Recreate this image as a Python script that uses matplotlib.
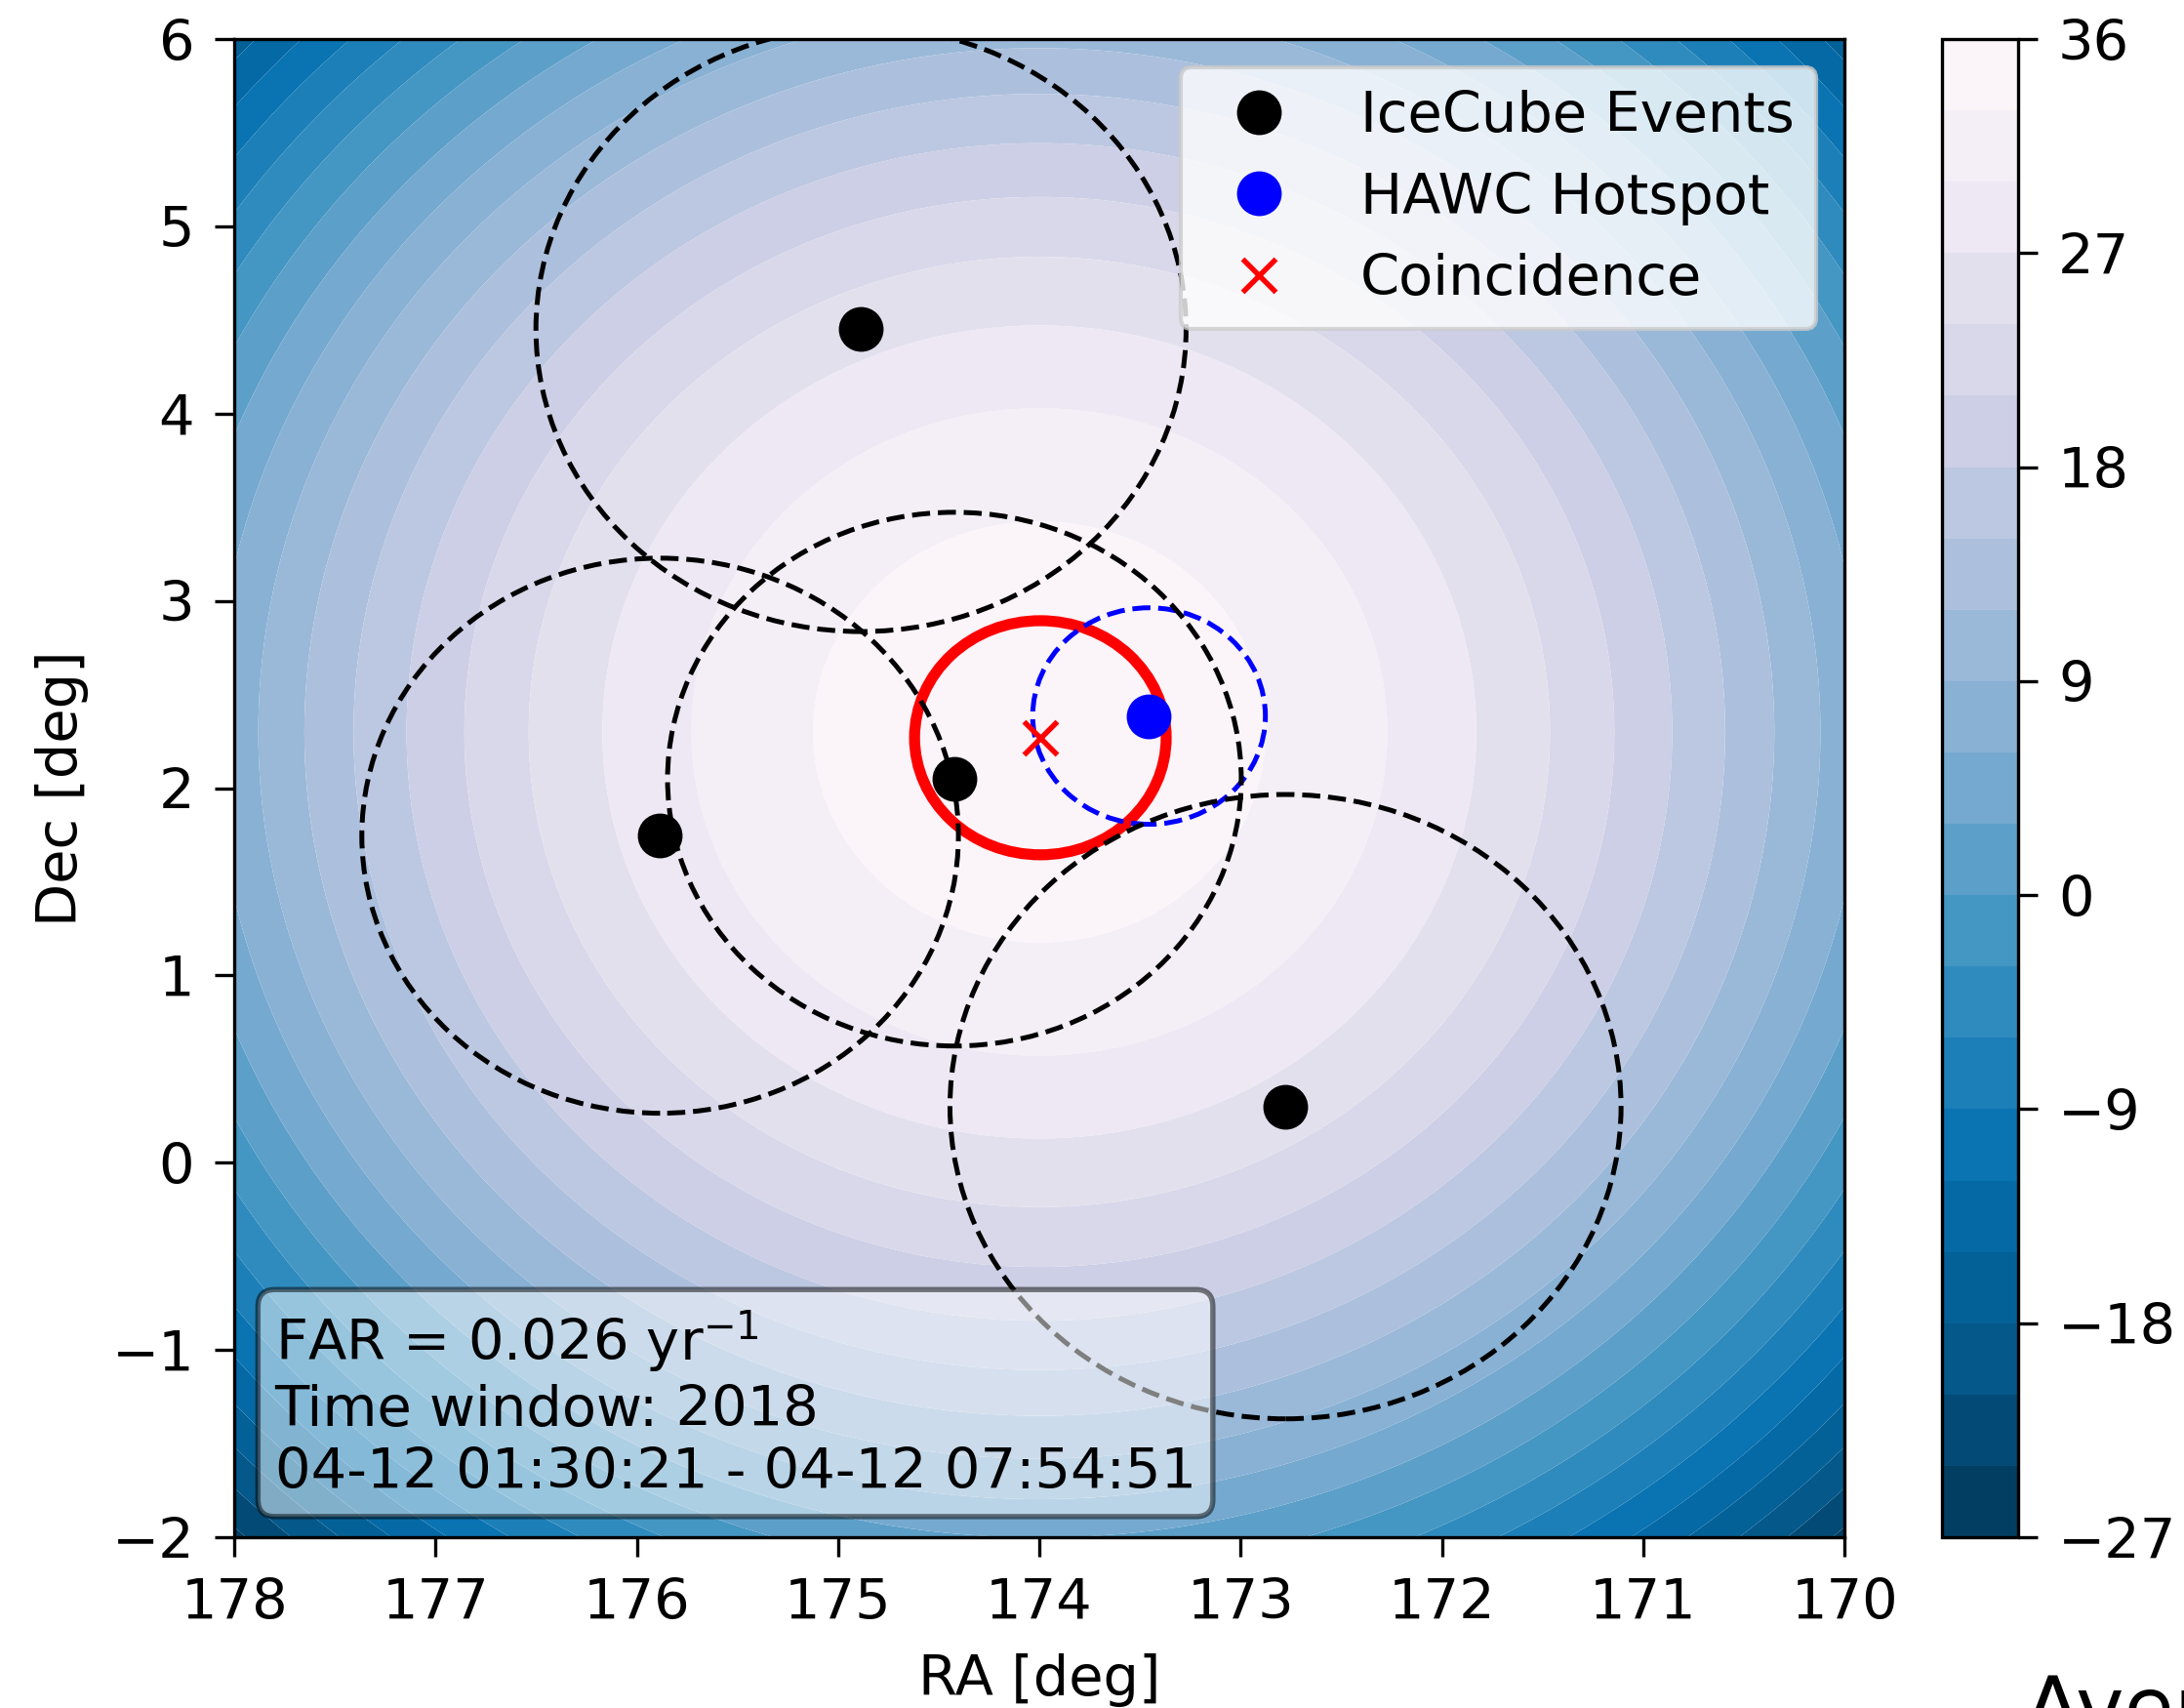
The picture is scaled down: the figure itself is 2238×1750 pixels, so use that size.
# Sky map of IceCube events and HAWC hotspot with coincidence region.

import matplotlib
matplotlib.use("Agg")
import matplotlib.pyplot as plt
import numpy as np

plt.rcParams['font.size'] = 13.8
plt.rcParams['xtick.major.size'] = 4.9
plt.rcParams['ytick.major.size'] = 4.9
plt.rcParams['xtick.major.pad'] = 4.9
plt.rcParams['ytick.major.pad'] = 4.9
plt.rcParams['axes.labelpad'] = 5.6

# IceCube events (RA, Dec, error radius) [deg]
ic_ra = [174.886, 174.422, 175.884, 172.777]
ic_dec = [4.451, 2.048, 1.746, 0.299]
ic_err = [1.615, 1.425, 1.482, 1.667]

# HAWC hotspot
hawc_ra = [173.455]
hawc_dec = [2.385]
hawc_err = 0.578

# coincidence position and radius
coinc_ra = [173.995]
coinc_dec = [2.269]
coinc_err = 0.625

# background map: peak value, centre and curvature
bg_peak = 35.2
bg_center = (174.0, 2.3)
bg_curv = 1.74
levels = np.arange(-27, 37, 3)

info_text = ("FAR = 0.026 yr$^{-1}$\n"
             "Time window: 2018\n"
             "04-12 01:30:21 - 04-12 07:54:51")

ra_grid, dec_grid = np.meshgrid(np.linspace(170, 178, 400), np.linspace(-2, 6, 400))
bg = bg_peak - bg_curv * ((ra_grid - bg_center[0]) ** 2 + (dec_grid - bg_center[1]) ** 2)

fig = plt.figure(figsize=(2238 / 300, 1750 / 300), dpi=300)
ax = fig.add_axes([0.10724, 0.1, 0.7373, 0.87714])
cax = fig.add_axes([0.8892, 0.1, 0.0349, 0.87714])

cs = ax.contourf(ra_grid, dec_grid, bg, levels=levels, cmap='PuBu_r', antialiased=True)
cbar = fig.colorbar(cs, cax=cax)
cbar.set_ticks(np.arange(-27, 37, 9))

# coincidence circle
ax.add_patch(plt.Circle((coinc_ra[0], coinc_dec[0]), coinc_err, fill=False,
                        color='red', lw=2.7))
# HAWC circle
ax.add_patch(plt.Circle((hawc_ra[0], hawc_dec[0]), hawc_err, fill=False,
                        color='blue', ls='--', lw=1.2))
# IceCube error circles
for r, d, e in zip(ic_ra, ic_dec, ic_err):
    ax.add_patch(plt.Circle((r, d), e, fill=False, color='black', ls='--', lw=1.2))

ax.plot(ic_ra, ic_dec, 'ko', ms=10, ls='none', label='IceCube Events')
ax.plot(hawc_ra, hawc_dec, 'o', color='blue', ms=10, ls='none', label='HAWC Hotspot')
ax.plot(coinc_ra, coinc_dec, 'x', color='red', ms=8, mew=1.3, ls='none', label='Coincidence')

ax.legend(loc='upper right')
props = dict(boxstyle='round', facecolor='white', alpha=0.5, lw=1.3)
ax.text(0.0252, 0.025, info_text, transform=ax.transAxes, va='bottom', ha='left', bbox=props)

ax.set_xlim(178, 170)
ax.set_ylim(-2, 6)
ax.set_xlabel('RA [deg]')
ax.set_ylabel('Dec [deg]')

# colour bar title, cut by the figure edge as in the original
fig.text(0.9272, -0.016, 'Average TS', fontsize=20, va='baseline', ha='left')

fig.savefig('out.png', dpi=300)
